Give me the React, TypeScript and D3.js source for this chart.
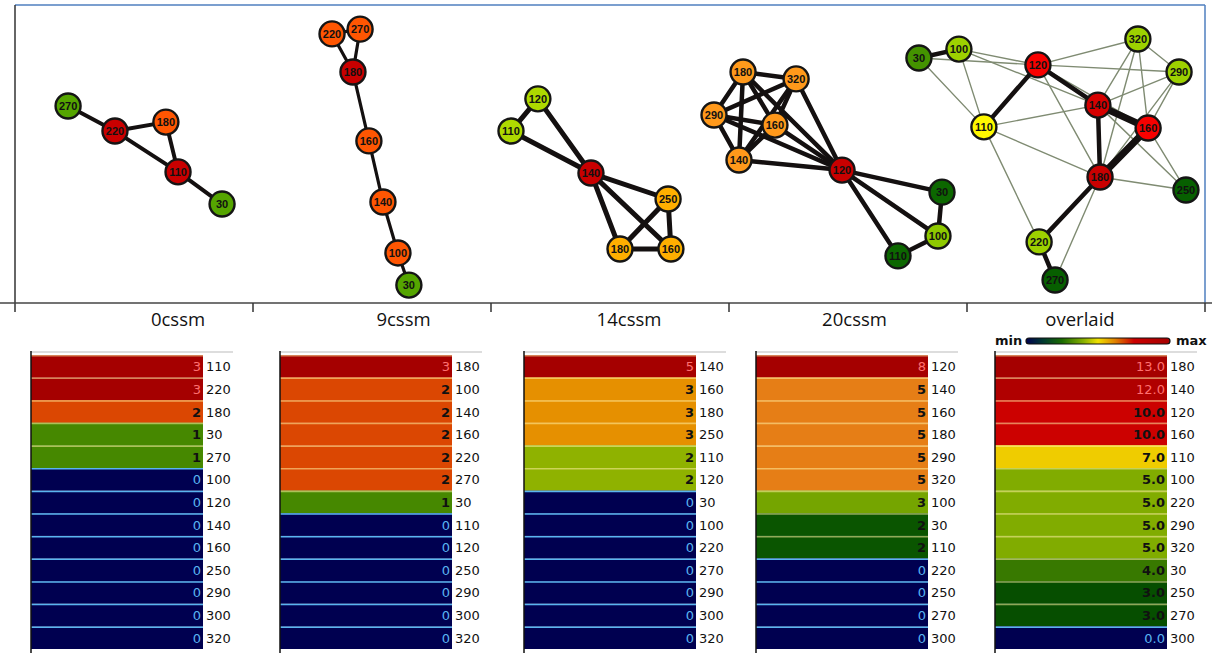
import React from "react";
import * as d3 from "d3";

// panels (x axis categories)
const panels = ["0cssm", "9cssm", "14cssm", "20cssm", "overlaid"];

// table rows per panel: node names and their values (degree)
const names0 = ["110", "220", "180", "30", "270", "100", "120", "140", "160", "250", "290", "300", "320"];
const values0 = [3, 3, 2, 1, 1, 0, 0, 0, 0, 0, 0, 0, 0];
const names1 = ["180", "100", "140", "160", "220", "270", "30", "110", "120", "250", "290", "300", "320"];
const values1 = [3, 2, 2, 2, 2, 2, 1, 0, 0, 0, 0, 0, 0];
const names2 = ["140", "160", "180", "250", "110", "120", "30", "100", "220", "270", "290", "300", "320"];
const values2 = [5, 3, 3, 3, 2, 2, 0, 0, 0, 0, 0, 0, 0];
const names3 = ["120", "140", "160", "180", "290", "320", "100", "30", "110", "220", "250", "270", "300"];
const values3 = [8, 5, 5, 5, 5, 5, 3, 2, 2, 0, 0, 0, 0];
const names4 = ["180", "140", "120", "160", "110", "100", "220", "290", "320", "30", "250", "270", "300"];
const values4 = [13, 12, 10, 10, 7, 5, 5, 5, 5, 4, 3, 3, 0];

// node layouts, in panel units (x: % of panel width, y: % of plot height)
const layout0: [string, number, number][] = [
  ["270", 22.3, 33.9], ["220", 42.0, 42.3], ["180", 63.4, 39.3], ["110", 68.5, 56.0], ["30", 87.0, 66.8],
];
const layout1: [string, number, number][] = [
  ["220", 33.2, 9.7], ["270", 45.0, 8.1], ["180", 42.0, 22.5], ["160", 48.7, 45.6],
  ["140", 54.6, 66.1], ["100", 60.9, 83.2], ["30", 65.5, 94.0],
];
const layout2: [string, number, number][] = [
  ["120", 19.7, 31.5], ["110", 8.4, 42.3], ["140", 42.0, 56.4], ["250", 74.4, 65.1],
  ["180", 54.2, 81.9], ["160", 75.6, 81.9],
];
const layout3: [string, number, number][] = [
  ["180", 5.9, 22.5], ["320", 28.2, 24.8], ["290", -6.3, 36.9], ["160", 19.3, 40.3], ["140", 4.2, 52.0],
  ["120", 47.5, 55.4], ["30", 89.5, 62.8], ["100", 87.8, 77.5], ["110", 71.0, 84.2],
];
const layout4: [string, number, number][] = [
  ["30", -20.2, 17.8], ["100", -3.4, 14.8], ["120", 29.8, 20.1], ["320", 71.8, 11.4], ["290", 89.1, 22.5],
  ["140", 55.0, 33.6], ["110", 7.1, 40.9], ["160", 76.1, 41.3], ["180", 55.9, 57.7], ["250", 92.0, 62.1],
  ["220", 30.3, 79.5], ["270", 37.0, 92.3],
];

// edges per panel
const edges0 = [["270", "220"], ["220", "180"], ["220", "110"], ["180", "110"], ["110", "30"]];
const edges1 = [["220", "270"], ["220", "180"], ["270", "180"], ["180", "160"], ["160", "140"], ["140", "100"], ["100", "30"]];
const edges2 = [["120", "110"], ["120", "140"], ["110", "140"], ["140", "250"], ["140", "180"], ["140", "160"],
  ["250", "180"], ["250", "160"], ["180", "160"]];
const edges3 = [["180", "320"], ["180", "290"], ["180", "160"], ["180", "140"], ["180", "120"],
  ["320", "290"], ["320", "160"], ["320", "140"], ["320", "120"],
  ["290", "160"], ["290", "140"], ["290", "120"], ["160", "140"], ["160", "120"], ["140", "120"],
  ["120", "30"], ["120", "100"], ["120", "110"], ["30", "100"], ["100", "110"]];

// colour map min -> max
const colorStops = [0, 0.2, 0.25, 0.31, 0.34, 0.39, 0.54, 0.6, 0.63, 0.67, 0.77, 0.92, 1];
const colorRange = ["#000050", "#004400", "#0a5500", "#3a7a00", "#4a8c00", "#88b000", "#f0cc00",
  "#e69000", "#e67a1a", "#da4200", "#cc0000", "#b00000", "#a50000"];
const legendStops = [0, 0.12, 0.25, 0.4, 0.5, 0.62, 0.75, 1];
const legendColors = ["#000050", "#003a30", "#1a6a00", "#88b000", "#f0e000", "#e08000", "#cc0000", "#a50000"];

const tableNames = [names0, names1, names2, names3, names4];
const tableValues = [values0, values1, values2, values3, values4];
const layouts = [layout0, layout1, layout2, layout3, layout4];
const panelEdges = [edges0, edges1, edges2, edges3];

// overlaid = union of edges, weighted by how many panels share them
const overlaidEdges = (() => {
  const m = new Map<string, { a: string; b: string; w: number }>();
  panelEdges.flat().forEach(([a, b]) => {
    const k = [a, b].sort().join("-");
    const e = m.get(k);
    if (e) e.w += 1;
    else m.set(k, { a, b, w: 1 });
  });
  return Array.from(m.values()).sort((p, q) => p.w - q.w);
})();

const W = 1212, H = 653;
const plotTop = 5, plotBottom = 303, plotLeft = 15, plotRight = 1205;
const tableX = [31, 280, 524, 756, 995];
const barW = 172;
const edgeWidth = [4, 3.2, 5, 4.5];
const font = "'DejaVu Sans', Verdana, sans-serif";

export default function App() {
  const x = d3.scaleBand<string>().domain(panels).range([plotLeft, plotRight]);
  const ux = d3.scaleLinear().domain([0, 100]).range([0, x.bandwidth()]);
  const uy = d3.scaleLinear().domain([0, 100]).range([plotTop, plotBottom]);
  const color = d3.scaleLinear<string>().domain(colorStops).range(colorRange).interpolate(d3.interpolateRgb);
  const fmt = d3.format(".1f");

  return (
    <div style={{ position: "absolute", left: 0, top: 0 }}>
      <svg width={W} height={H} style={{ display: "block", background: "#fff" }}>
        <defs>
          <linearGradient id="legendGrad" x1="0" x2="1" y1="0" y2="0">
            {legendStops.map((s, i) => (
              <stop key={i} offset={s} stopColor={legendColors[i]} />
            ))}
          </linearGradient>
        </defs>

        {/* frame */}
        <line x1={plotLeft} x2={plotRight} y1={plotTop} y2={plotTop} stroke="#4f7fbf" strokeWidth={1.5} />
        <line x1={plotRight} x2={plotRight} y1={plotTop} y2={plotBottom} stroke="#4f7fbf" strokeWidth={1.5} />
        <line x1={plotLeft} x2={plotLeft} y1={plotTop} y2={312} stroke="#333" strokeWidth={1.5} />
        <line x1={0} x2={W} y1={plotBottom} y2={plotBottom} stroke="#444" strokeWidth={1.5} />
        {panels.map((p) => (
          <line key={p} x1={x(p)! + x.bandwidth()} x2={x(p)! + x.bandwidth()} y1={plotBottom} y2={312}
            stroke="#333" strokeWidth={1.5} />
        ))}
        {panels.map((p, i) => (
          <text key={p} x={x(p)! + 163 - 12.5 * i} y={326} textAnchor="middle"
            fontFamily="'Open Sans', sans-serif" fontSize={18.5} fill="#111">{p}</text>
        ))}

        {/* networks */}
        {panels.map((p, i) => {
          const names = tableNames[i];
          const vals = tableValues[i];
          const max = d3.max(vals)!;
          const pos = new Map(layouts[i].map(([id, lx, ly]) => [id, [x(p)! + ux(lx), uy(ly)]]));
          const edges = i < 4
            ? panelEdges[i].map(([a, b]) => ({ a, b, w: 2 }))
            : overlaidEdges;
          return (
            <g key={p}>
              {edges.map((e, j) => {
                const [x1, y1] = pos.get(e.a)!;
                const [x2, y2] = pos.get(e.b)!;
                const thin = i === 4 && e.w === 1;
                const sw = i < 4 ? edgeWidth[i] : e.w === 1 ? 1.4 : e.w === 2 ? 4.5 : 7;
                return (
                  <line key={j} x1={x1} y1={y1} x2={x2} y2={y2}
                    stroke={thin ? "#7f8b72" : "#141010"} strokeWidth={sw} strokeLinecap="round" />
                );
              })}
              {layouts[i].map(([id]) => {
                const [cx, cy] = pos.get(id)!;
                const v = vals[names.indexOf(id)];
                const c = d3.color(color(v / max))!.brighter(0.55).formatHex();
                return (
                  <g key={id}>
                    <circle cx={cx} cy={cy} r={12.5} fill={c} stroke="#151515" strokeWidth={2.4} />
                    <text x={cx} y={cy + 3.8} textAnchor="middle" fontFamily="'Liberation Sans', Arial, sans-serif"
                      fontWeight="bold" fontSize={11} fill="#111">{id}</text>
                  </g>
                );
              })}
            </g>
          );
        })}

        {/* tables */}
        {panels.map((p, i) => {
          const names = tableNames[i];
          const vals = tableValues[i];
          const max = d3.max(vals)!;
          const y = d3.scaleBand<string>().domain(names).range([355, 649]);
          const tx = tableX[i];
          return (
            <g key={p}>
              <line x1={tx} x2={tx + 202} y1={352} y2={352} stroke="#ddd" strokeWidth={2} />
              {names.map((n, j) => {
                const v = vals[j];
                const f = v / max;
                const c = color(f);
                const sep = v === 0 ? "#5ab4f0" : d3.interpolateRgb(c, "#fff0a0")(0.55);
                const yy = y(n)!;
                const txtColor = v === 0 ? "#5ab4f0" : f > 0.85 ? "#ff7070" : "#111";
                return (
                  <g key={n}>
                    <rect x={tx} y={yy} width={barW} height={y.bandwidth()} fill={c} />
                    <line x1={tx} x2={tx + barW} y1={yy + 0.75} y2={yy + 0.75} stroke={sep} strokeWidth={1.5} />
                    <text x={tx + barW - 2} y={yy + y.bandwidth() / 2 + 5} textAnchor="end"
                      fontFamily={font} fontSize={13} fontWeight={v === 0 || f > 0.85 ? "normal" : "bold"}
                      fill={txtColor}>{i === 4 ? fmt(v) : v}</text>
                    <text x={tx + barW + 3} y={yy + y.bandwidth() / 2 + 5} fontFamily={font} fontSize={13}
                      fill="#111">{n}</text>
                  </g>
                );
              })}
              <line x1={tx} x2={tx} y1={351} y2={H} stroke="#111" strokeWidth={1.5} />
            </g>
          );
        })}

        {/* legend */}
        <text x={995} y={345} fontFamily={font} fontSize={13} fontWeight="bold" fill="#111">min</text>
        <rect x={1026} y={338} width={144} height={6} rx={3} fill="url(#legendGrad)" stroke="#111" strokeWidth={1.2} />
        <text x={1176} y={345} fontFamily={font} fontSize={13} fontWeight="bold" fill="#111">max</text>
      </svg>
    </div>
  );
}
